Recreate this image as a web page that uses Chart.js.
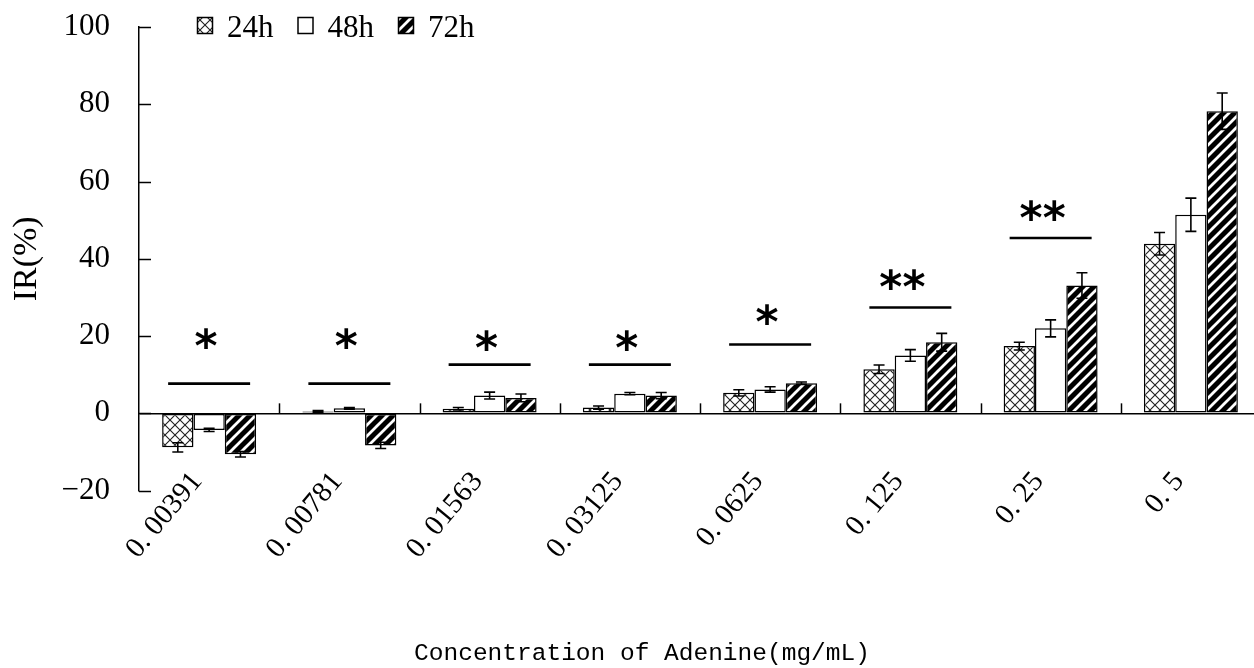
<!DOCTYPE html>
<html><head><meta charset="utf-8">
<script src="https://cdn.jsdelivr.net/npm/chart.js@4.4.1/dist/chart.umd.min.js"></script>
<style>
html,body{margin:0;padding:0;background:#fff;overflow:hidden;width:1254px;height:668px}
#wrap{width:1262px;height:668px}
</style></head>
<body><div id="wrap"><canvas id="c" width="1262" height="668"></canvas></div>
<script>
// ---- data ----
const categories = ['0. 00391','0. 00781','0. 01563','0. 03125','0. 0625','0. 125','0. 25','0. 5'];
const seriesLabels = ['24h','48h','72h'];
const values24 = [-8.8, 0.5, 1.2, 1.5, 5.3, 11.4, 17.4, 43.9];
const values48 = [-4.3, 1.3, 4.6, 5.1, 6.2, 15.0, 22.0, 51.4];
const values72 = [-10.6, -8.3, 4.0, 4.6, 7.8, 18.4, 33.1, 78.2];
const err24 = [1.2, 0.2, 0.3, 0.4, 0.8, 1.1, 1.0, 2.9];
const err48 = [0.4, 0.2, 0.9, 0.3, 0.7, 1.5, 2.2, 4.3];
const err72 = [0.7, 0.8, 1.0, 0.8, 0.3, 2.3, 3.3, 4.7];
const sigLineValues = [7.7, 7.7, 12.6, 12.6, 17.8, 27.4, 45.4, null];
const sigMarks = ['*','*','*','*','*','**','**',''];
const sigMarkValues = [19.9, 19.9, 19.6, 19.6, 26.3, 35.4, 53.2, null];
const yTicks = {min: -20, max: 100, step: 20};

// ---- patterns ----
function crossPattern(){
  const s = 10, c = document.createElement('canvas'); c.width = s; c.height = s;
  const g = c.getContext('2d');
  g.fillStyle = '#fff'; g.fillRect(0,0,s,s);
  g.strokeStyle = '#222'; g.lineWidth = 1.1;
  g.beginPath(); g.moveTo(0,0); g.lineTo(s,s); g.moveTo(0,s); g.lineTo(s,0); g.stroke();
  return g.createPattern(c,'repeat');
}
function stripePattern(){
  const s = 11, c = document.createElement('canvas'); c.width = s; c.height = s;
  const g = c.getContext('2d');
  g.fillStyle = '#000'; g.fillRect(0,0,s,s);
  g.strokeStyle = '#fff'; g.lineWidth = 2.8;
  g.beginPath();
  g.moveTo(-s/2, s/2); g.lineTo(s/2, -s/2);
  g.moveTo(0, s); g.lineTo(s, 0);
  g.moveTo(s/2, s*1.5); g.lineTo(s*1.5, s/2);
  g.stroke();
  return g.createPattern(c,'repeat');
}
const fills = [crossPattern(), '#ffffff', stripePattern()];
const allValues = [values24, values48, values72];
const allErrors = [err24, err48, err72];

const decorPlugin = {
  id: 'decor',
  afterLayout(chart){
    const tb = chart.titleBlock;
    if (tb){ tb.left = 22; tb.right = 1262; const h = tb.height; tb.bottom = 668; tb.top = 668 - h; }
  },
  afterDatasetsDraw(chart){
    const ctx = chart.ctx, ys = chart.scales.y, xs = chart.scales.x, ca = chart.chartArea;
    ctx.save();
    ctx.strokeStyle = '#000'; ctx.lineWidth = 1.6;
    // error bars
    allErrors.forEach((errs, di) => {
      const meta = chart.getDatasetMeta(di);
      meta.data.forEach((bar, i) => {
        const v = allValues[di][i], e = errs[i];
        const yt = ys.getPixelForValue(v + e), yb = ys.getPixelForValue(v - e);
        ctx.beginPath();
        ctx.moveTo(bar.x, yt); ctx.lineTo(bar.x, yb);
        ctx.moveTo(bar.x - 5.5, yt); ctx.lineTo(bar.x + 5.5, yt);
        ctx.moveTo(bar.x - 5.5, yb); ctx.lineTo(bar.x + 5.5, yb);
        ctx.stroke();
      });
    });
    // inner y ticks
    ctx.lineWidth = 1.5;
    ys.ticks.forEach(t => {
      const py = Math.round(ys.getPixelForValue(t.value)) + 0.5;
      ctx.beginPath(); ctx.moveTo(ca.left, py); ctx.lineTo(ca.left + 12, py); ctx.stroke();
    });
    // category boundary ticks on zero line
    const y0 = ys.getPixelForValue(0);
    const step = xs.getPixelForValue(1) - xs.getPixelForValue(0);
    for (let i = 1; i <= categories.length; i++){
      const px = xs.getPixelForValue(i-1) + step / 2;
      ctx.beginPath(); ctx.moveTo(Math.round(px)+0.5, y0); ctx.lineTo(Math.round(px)+0.5, y0 - 10); ctx.stroke();
    }
    // significance lines and marks
    ctx.lineWidth = 2.6;
    ctx.fillStyle = '#000';
    ctx.font = 'bold 44px "DejaVu Sans"';
    ctx.textAlign = 'center'; ctx.textBaseline = 'alphabetic';
    sigLineValues.forEach((v, i) => {
      if (v === null) return;
      const cx = xs.getPixelForValue(i);
      const py = ys.getPixelForValue(v);
      ctx.beginPath(); ctx.moveTo(cx - 41, py); ctx.lineTo(cx + 41, py); ctx.stroke();
      const my = ys.getPixelForValue(sigMarkValues[i]);
      const off = sigMarks[i].length > 1 ? -8 : -3;
      ctx.fillText(sigMarks[i], cx + off, my + 25);
    });
    // legend
    ctx.font = '31px "Liberation Serif"';
    ctx.textAlign = 'left'; ctx.textBaseline = 'alphabetic';
    let lx = 197;
    seriesLabels.forEach((lab, di) => {
      ctx.fillStyle = fills[di];
      ctx.fillRect(lx, 17, 15, 16);
      ctx.lineWidth = 1.5; ctx.strokeStyle = '#000';
      ctx.strokeRect(lx + 0.5, 17.5, 15, 16);
      ctx.fillStyle = '#000';
      ctx.fillText(lab, lx + 30, 37);
      lx += 30 + ctx.measureText(lab).width + 24;
    });
    ctx.restore();
  }
};

new Chart(document.getElementById('c'), {
  type: 'bar',
  data: {
    labels: categories,
    datasets: seriesLabels.map((lab, di) => ({
      label: lab,
      data: allValues[di],
      backgroundColor: fills[di],
      borderColor: '#000',
      borderWidth: 1.5,
      borderSkipped: false,
      categoryPercentage: 0.67,
      barPercentage: 1.0
    }))
  },
  options: {
    responsive: false,
    devicePixelRatio: 1,
    animation: false,
    layout: {padding: {top: 27, right: 1, bottom: 148, left: 0}},
    plugins: {
      legend: {display: false},
      tooltip: {enabled: false},
      title: {
        display: true,
        text: 'Concentration of Adenine(mg/mL)',
        position: 'bottom',
        color: '#000',
        font: {family: '"Liberation Mono"', size: 24.5, weight: 'normal'},
        padding: {top: 0, bottom: 0}
      }
    },
    scales: {
      x: {
        position: {y: 0},
        grid: {display: false, drawTicks: false},
        border: {display: false},
        ticks: {
          autoSkip: false, maxRotation: 50, minRotation: 50, padding: 52, labelOffset: -12,
          color: '#000', font: {family: '"Liberation Serif"', size: 29}
        },
        afterFit(s){ s.height = 148; s.paddingLeft = 0; s.paddingRight = 0; }
      },
      y: {
        min: yTicks.min, max: yTicks.max,
        ticks: {stepSize: yTicks.step, color: '#000', padding: 29,
          font: {family: '"Liberation Serif"', size: 31},
          callback: v => v < 0 ? '\u2212' + Math.abs(v) : String(v)},
        grid: {
          drawTicks: false,
          color: c => (c.tick && c.tick.value === 0) ? '#000' : 'rgba(0,0,0,0)',
          lineWidth: 1.5
        },
        border: {display: true, color: '#000', width: 1.5},
        title: {display: true, text: 'IR(%)', color: '#000',
          font: {family: '"Liberation Serif"', size: 34}, padding: {top: 7, bottom: 0}},
        afterFit(s){ s.width = 139; s.paddingTop = 0; s.paddingBottom = 0; }
      }
    }
  },
  plugins: [decorPlugin]
});
</script>
</body></html>
